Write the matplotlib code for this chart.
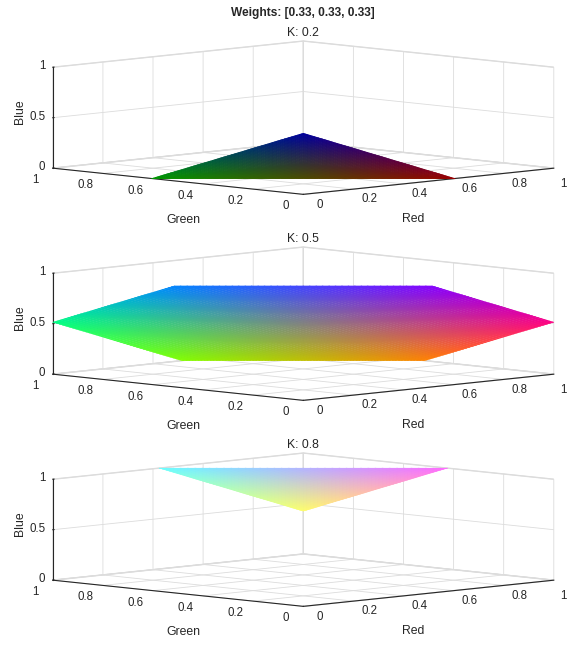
import numpy as np
import matplotlib.pyplot as plt
from mpl_toolkits.mplot3d.art3d import Poly3DCollection

plt.rcParams['font.family'] = ['Liberation Sans', 'DejaVu Sans']
plt.rcParams['font.size'] = 8.3
plt.rcParams['text.color'] = '#262626'
plt.rcParams['grid.color'] = '#dcdcdc'
plt.rcParams['grid.linewidth'] = 0.6
plt.rcParams['axes.edgecolor'] = '#262626'
plt.rcParams['axes.linewidth'] = 0.8
plt.rcParams['xtick.color'] = '#262626'
plt.rcParams['ytick.color'] = '#262626'

# ====================================================
weights = [0.33, 0.33, 0.33]
k_values = [0.2, 0.5, 0.8]
red_ticks = [0, 0.2, 0.4, 0.6, 0.8, 1]
green_ticks = [0, 0.2, 0.4, 0.6, 0.8, 1]
blue_ticks = [0, 0.5, 1]


# ====================================================
def plane_polygon(w, k):
	# points where the plane w.p = k cuts the edges of the unit cube
	w = np.array(w)
	corners = [np.array((i, j, l)) for i in (0, 1) for j in (0, 1) for l in (0, 1)]
	pts = []
	for a in corners:
		for b in corners:
			d = b - a
			if d.min() >= 0 and d.sum() == 1:
				fa = w @ a - k
				fb = w @ b - k
				if fa * fb <= 0 and fa != fb:
					pts.append(a + fa / (fa - fb) * d)
	pts = np.unique(np.round(pts, 9), axis=0)
	c = pts.mean(axis=0)
	n = w / np.linalg.norm(w)
	u = (pts[0] - c) / np.linalg.norm(pts[0] - c)
	v = np.cross(n, u)
	ang = np.arctan2((pts - c) @ v, (pts - c) @ u)
	return pts[np.argsort(ang)]


# ====================================================
def split_polygon(poly, n):
	# fan from centre, each fan triangle cut in n*n small ones
	c = poly.mean(axis=0)
	tris = []
	for i in range(len(poly)):
		p1 = poly[i]
		p2 = poly[(i + 1) % len(poly)]
		e1 = (p1 - c) / n
		e2 = (p2 - c) / n
		for a in range(n):
			for b in range(n - a):
				q = c + a * e1 + b * e2
				tris.append([q, q + e1, q + e2])
				if b < n - a - 1:
					tris.append([q + e1, q + e1 + e2, q + e2])
	return np.array(tris)


# ====================================================
def draw_panel(ax, k):
	poly = plane_polygon(weights, k)
	tris = split_polygon(poly, 40)
	cols = np.clip(tris.mean(axis=1), 0, 1)
	pc = Poly3DCollection(tris, facecolors=cols, edgecolors=cols, linewidths=0.3)
	ax.add_collection3d(pc)

	ax.set_proj_type('ortho')
	ax.view_init(elev=6, azim=-135)
	ax.set_box_aspect((3.49, 3.49, 1), zoom=0.86)
	ax.set_xlim(0, 1)
	ax.set_ylim(0, 1)
	ax.set_zlim(0, 1)
	ax.set_xticks(red_ticks)
	ax.set_yticks(green_ticks)
	ax.set_zticks(blue_ticks)
	for axis in (ax.xaxis, ax.yaxis, ax.zaxis):
		axis.set_tick_params(label1On=False)
		axis.label.set_visible(False)
		axis.set_pane_color((1, 1, 1, 1))
		axis.pane.set_edgecolor('#dcdcdc')
		axis._axinfo['tick']['inward_factor'] = 0.0
		axis._axinfo['tick']['outward_factor'] = 0.0
	ax.zaxis._axinfo['tick']['outward_factor'] = 0.06
	ax.title.set_visible(False)
	ax.set_facecolor('none')

	# tick labels, matlab style offsets
	for t in red_ticks:
		ax.text(t - 0.025 * (t == 1), -0.065, -0.085 - 0.05 * (t == 1), '%g' % t,
				ha='center', va='center')
	for t in green_ticks:
		ax.text(-0.07, t, -0.1, '%g' % t, ha='center', va='center')
	for t in blue_ticks:
		ax.text(0, 1.03, t, '%g' % t, ha='right', va='center')
	ax.text(0.5, 0.06, -0.39, 'Red', ha='center', va='center', fontsize=8.8)
	ax.text(0.02, 0.5, -0.385, 'Green', ha='center', va='center', fontsize=8.8)
	ax.text(0, 1.13, 0.53, 'Blue', zdir='z', ha='center', va='center', fontsize=8.8)


# ====================================================
def main():
	fig = plt.figure(figsize=(5.77, 6.45), dpi=100)
	W = 577.0
	H = 645.0
	side = 577.0
	centres = [125.5, 331.5, 537.5]
	for k, cy in zip(k_values, centres):
		ax = fig.add_axes([(295.5 - side / 2) / W, (H - cy - side / 2) / H, side / W, side / H],
						  projection='3d')
		draw_panel(ax, k)
		fig.text(303 / W, 1 - (cy - 92.5) / H, 'K: %g' % k, ha='center', va='center', fontsize=8.8)
	fig.text(303 / W, 1 - 13 / H, 'Weights: [%s]' % ', '.join('%.2f' % w for w in weights),
			 ha='center', va='center', fontweight='bold', fontsize=8.6)
	fig.savefig('out.png', dpi=100, facecolor='white')


# ====================================================
if __name__ == "__main__":
	main()
